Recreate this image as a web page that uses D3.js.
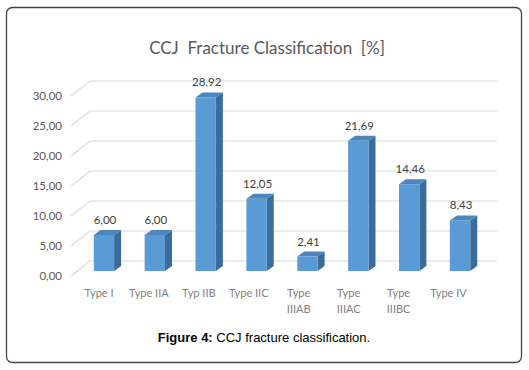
<!DOCTYPE html>
<html>
<head>
<meta charset="utf-8">
<script src="https://cdn.jsdelivr.net/npm/d3@7"></script>
<style>
	body { margin: 0; background: #fff; }
	svg { display: block; }
</style>
</head>
<body>
<div id="chart"></div>
<script>
const categories = ["Type I", "Type IIA", "Typ IIB", "Type IIC", "Type IIIAB", "Type IIIAC", "Type IIIBC", "Type IV"];
const labelLines = [["Type I"], ["Type IIA"], ["Typ IIB"], ["Type IIC"], ["Type", "IIIAB"], ["Type", "IIIAC"], ["Type", "IIIBC"], ["Type IV"]];
const values = [6.00, 6.00, 28.92, 12.05, 2.41, 21.69, 14.46, 8.43];
const yTicks = [0, 5, 10, 15, 20, 25, 30];

const width = 529;
const height = 370;
const depth = { x: 7, y: -5 };
const wall = { x: 90, y: -10, right: 497 };

const fmt = v => d3.format(".2f")(v).replace(".", ",");

const x = d3.scaleBand()
	.domain(categories)
	.range([78.5, 485.5])
	.paddingInner(0.6)
	.paddingOuter(0.3);

const xLabel = d3.scalePoint()
	.domain(categories)
	.range([99, 448.5]);

const y = d3.scaleLinear()
	.domain([0, 30])
	.range([271, 91]);

const svg = d3.select("#chart")
	.append("svg")
	.attr("width", width)
	.attr("height", height)
	.attr("viewBox", [0, 0, width, height]);

// outer frame
svg.append("rect")
	.attr("x", 6.5)
	.attr("y", 7.5)
	.attr("width", 515)
	.attr("height", 355)
	.attr("rx", 6)
	.attr("fill", "none")
	.attr("stroke", "#444")
	.attr("stroke-width", 1.3);

// title
svg.append("text")
	.attr("x", 267)
	.attr("y", 54)
	.attr("text-anchor", "middle")
	.attr("font-family", "Lato, 'Open Sans', sans-serif")
	.attr("font-size", 17)
	.attr("fill", "#595959")
	.style("white-space", "pre")
	.text("CCJ  Fracture Classification  [%]");

// grid: back wall lines plus diagonal floor lines
const grid = svg.append("g")
	.attr("stroke", "#d9d9d9")
	.attr("stroke-width", 1.2)
	.attr("fill", "none");

grid.selectAll("path")
	.data(yTicks)
	.join("path")
	.attr("d", d => `M71,${y(d) + 5}L${wall.x},${y(d) + wall.y}H${wall.right}`);

// y axis labels
svg.append("g")
	.attr("font-family", "Lato, 'Open Sans', sans-serif")
	.attr("font-size", 11.5)
	.attr("fill", "#595959")
	.attr("text-anchor", "end")
	.selectAll("text")
	.data(yTicks)
	.join("text")
	.attr("x", 62)
	.attr("y", d => y(d) + 8.5)
	.text(fmt);

// bars
const bars = svg.append("g")
	.selectAll("g")
	.data(values)
	.join("g");

const bx = (d, i) => x(categories[i]);
const bw = x.bandwidth();

bars.append("path")
	.attr("fill", "#3a6c9c")
	.attr("d", (d, i) => {
		const x1 = bx(d, i) + bw;
		return `M${x1},${y(d)}L${x1 + depth.x},${y(d) + depth.y}L${x1 + depth.x},${y(0) + depth.y}L${x1},${y(0)}Z`;
	});

bars.append("path")
	.attr("fill", "#4d85bf")
	.attr("d", (d, i) => {
		const x0 = bx(d, i);
		return `M${x0},${y(d)}L${x0 + depth.x},${y(d) + depth.y}L${x0 + bw + depth.x},${y(d) + depth.y}L${x0 + bw},${y(d)}Z`;
	});

bars.append("rect")
	.attr("x", bx)
	.attr("y", d => y(d))
	.attr("width", bw)
	.attr("height", d => y(0) - y(d))
	.attr("fill", "#5b9bd5");

// value labels
svg.append("g")
	.attr("font-family", "Lato, 'Open Sans', sans-serif")
	.attr("font-size", 11.5)
	.attr("fill", "#404040")
	.attr("text-anchor", "middle")
	.selectAll("text")
	.data(values)
	.join("text")
	.attr("x", (d, i) => x(categories[i]) + bw / 2 + 1)
	.attr("y", d => y(d) - 11)
	.text(fmt);

// x axis labels
const xl = svg.append("g")
	.attr("font-family", "Lato, 'Open Sans', sans-serif")
	.attr("font-size", 11)
	.attr("fill", "#7f7f7f")
	.attr("text-anchor", "middle")
	.selectAll("text")
	.data(labelLines)
	.join("text")
	.attr("x", (d, i) => xLabel(categories[i]))
	.attr("y", 297);

xl.selectAll("tspan")
	.data(d => d)
	.join("tspan")
	.attr("x", function () { return this.parentNode.getAttribute("x"); })
	.attr("dy", (d, i) => i ? 16 : 0)
	.text(d => d);

// caption
const cap = svg.append("text")
	.attr("x", 264)
	.attr("y", 342)
	.attr("text-anchor", "middle")
	.attr("font-family", "'Liberation Sans', Arial, sans-serif")
	.attr("font-size", 13)
	.attr("fill", "#000");

cap.append("tspan")
	.attr("font-weight", "bold")
	.text("Figure 4:");

cap.append("tspan")
	.text(" CCJ fracture classification.");
</script>
</body>
</html>
